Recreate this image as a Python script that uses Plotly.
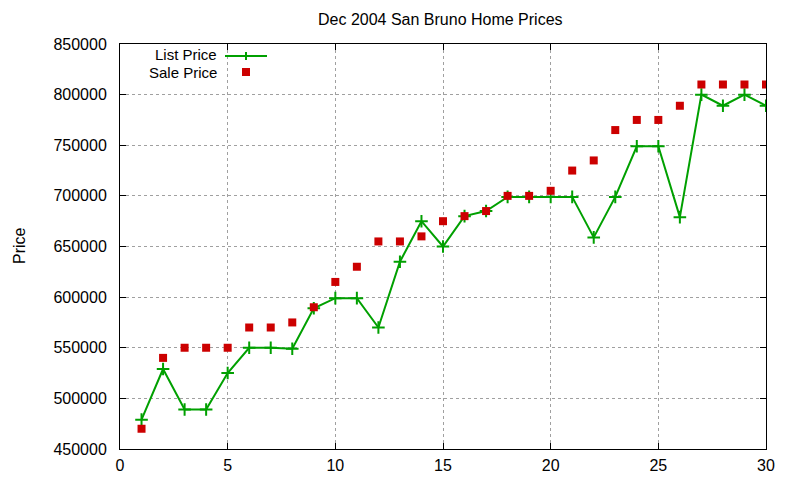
import plotly.graph_objects as go

days = list(range(1, 31))
list_price = [479000, 529000, 489000, 489000, 525000, 550000, 550000, 549000, 589000, 599000,
              599000, 570000, 635000, 675000, 650000, 680000, 685000, 699000, 699000, 699000,
              699000, 659000, 699000, 749000, 749000, 679000, 800000, 789000, 800000, 789000]
sale_price = [470000, 540000, 550000, 550000, 550000, 570000, 570000, 575000, 590000, 615000,
              630000, 655000, 655000, 660000, 675000, 680000, 685000, 700000, 700000, 705000,
              725000, 735000, 765000, 775000, 775000, 789000, 810000, 810000, 810000, 810000]
x_ticks = [0, 5, 10, 15, 20, 25, 30]
y_ticks = [450000, 500000, 550000, 600000, 650000, 700000, 750000, 800000, 850000]

GREEN = "#00a000"
RED = "#cc0000"
FONT = "Liberation Sans, Arial, sans-serif"

fig = go.Figure()
fig.add_trace(go.Scatter(
    x=days, y=list_price, mode="lines+markers", name="List Price",
    line=dict(color=GREEN, width=2),
    marker=dict(symbol="cross-thin", size=9, line=dict(color=GREEN, width=2), color=GREEN),
))
fig.add_trace(go.Scatter(
    x=days, y=sale_price, mode="markers", name="Sale Price",
    marker=dict(symbol="square", size=8, color=RED, line=dict(width=0)),
))

# page body has an 8px margin; target pixel positions are compensated
OFF = 8
L, R, T, B = 120 - OFF, 766 - OFF, 44 - OFF, 449 - OFF
W, H = R - L, B - T
def px(x):
    return (x - OFF - L) / W
def py(y):
    return (B - (y - OFF)) / H

shapes = [
    dict(type="line", xref="paper", yref="paper", x0=px(225), x1=px(267), y0=py(56), y1=py(56),
         line=dict(color=GREEN, width=2)),
    dict(type="line", xref="paper", yref="paper", x0=px(242), x1=px(250), y0=py(56), y1=py(56),
         line=dict(color=GREEN, width=2)),
    dict(type="line", xref="paper", yref="paper", x0=px(246), x1=px(246), y0=py(52), y1=py(60),
         line=dict(color=GREEN, width=2)),
    dict(type="rect", xref="paper", yref="paper", x0=px(242), x1=px(250), y0=py(68), y1=py(76),
         fillcolor=RED, line=dict(width=0)),
]

annotations = [
    dict(text="List Price", xref="paper", yref="paper", x=px(218), y=py(55), xanchor="right",
         yanchor="middle", borderpad=0, showarrow=False,
         font=dict(size=15, color="black", family=FONT)),
    dict(text="Sale Price", xref="paper", yref="paper", x=px(218), y=py(72.5), xanchor="right",
         yanchor="middle", borderpad=0, showarrow=False,
         font=dict(size=15, color="black", family=FONT)),
    dict(text="Price", xref="paper", yref="paper", x=px(19), y=py(246), xanchor="center",
         yanchor="middle", textangle=-90, borderpad=0, showarrow=False,
         font=dict(size=16, color="black", family=FONT)),
    dict(text="Dec 2004 San Bruno Home Prices", xref="paper", yref="paper", x=px(440), y=py(20),
         xanchor="center", yanchor="middle", showarrow=False,
         font=dict(size=16, color="black", family=FONT)),
]

axis_common = dict(
    showline=True, linecolor="black", linewidth=1, mirror="ticks",
    ticks="inside", ticklen=6, tickcolor="black", tickwidth=1,
    showgrid=True, gridcolor="#a0a0a0", griddash="dot", gridwidth=1,
    zeroline=False, tickfont=dict(size=16, color="black", family=FONT),
)

fig.update_layout(
    width=800, height=480,
    margin=dict(l=L, r=800 - R, t=T, b=480 - B),
    paper_bgcolor="white", plot_bgcolor="white",
    showlegend=False,
    font=dict(family=FONT, size=16, color="black"),
    xaxis=dict(range=[0, 30], tickvals=x_ticks, ticktext=[str(v) for v in x_ticks],
               ticklabelstandoff=2, **axis_common),
    yaxis=dict(range=[450000, 850000], tickvals=y_ticks, ticktext=[str(v) for v in y_ticks],
               ticklabelstandoff=9, **axis_common),
    shapes=shapes, annotations=annotations,
)

fig.write_html("out.html")
